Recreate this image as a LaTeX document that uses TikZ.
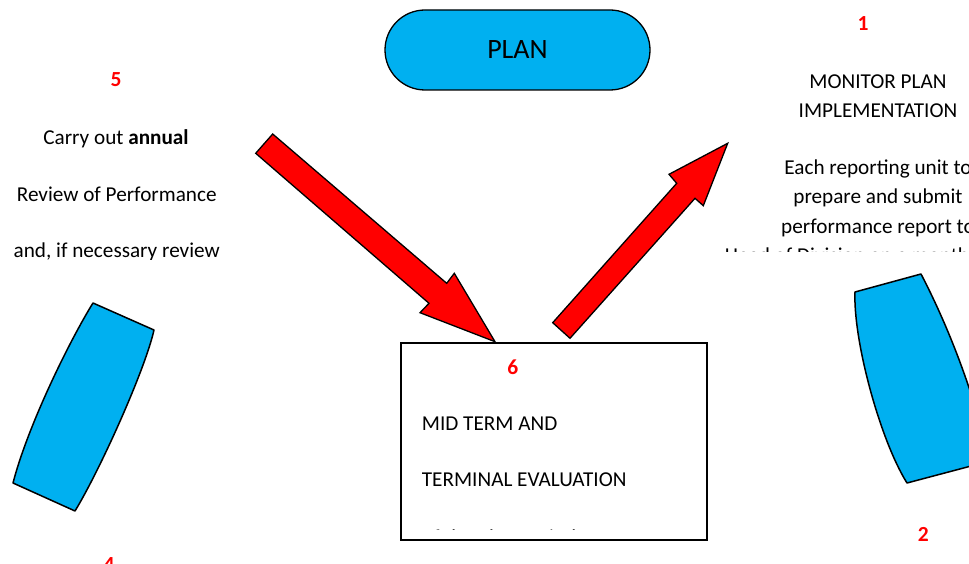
\documentclass[tikz,border=0pt]{standalone}
\usepackage{fontspec}
\setmainfont{Carlito}
\usetikzlibrary{shapes.misc}
\definecolor{skyblue}{HTML}{00B0F0}
\definecolor{numred}{HTML}{FF0000}
\tikzset{
  txt/.style={anchor=base, inner sep=0pt, font=\fontsize{21.2}{25}\selectfont},
  txtl/.style={txt, anchor=base west},
  num/.style={anchor=base, inner sep=0pt, text=numred, font=\fontsize{21.5}{25}\selectfont\bfseries},
  blockarrow/.style={fill=red, draw=black, line width=1.3pt, line join=miter},
  blob/.style={fill=skyblue, draw=black, line width=1.5pt, line join=round},
}
\begin{document}
\begin{tikzpicture}[x=1pt,y=-1pt]
\useasboundingbox (0,0) rectangle (969,564);
\clip (0,0) rectangle (969,564);
\fill[white] (0,0) rectangle (969,564);

% PLAN
\node[rounded rectangle, draw, fill=skyblue, line width=1.3pt, minimum width=265pt,
      minimum height=80pt, inner sep=0pt, font=\fontsize{28}{30}\selectfont] (plan) at (517.5,50) {PLAN};

% step 1 text
\node[num] (n1) at (863,30.7) {1};
\node[txt] (mon1) at (878,88.5) {MONITOR PLAN};
\node[txt] (mon2) at (878,117.5) {IMPLEMENTATION};
\node[txt] (mon3) at (878,175) {Each reporting unit to};
\node[txt] (mon4) at (878,204) {prepare and submit};
\node[txt] (mon5) at (878,233.3) {performance report to};
\begin{scope}
  \clip (700,0) rectangle (969,251);
  \node[txt] (mon6) at (878,262.6) {Head of Division on a monthly basis};
\end{scope}

% step 5 text
\node[num] (n5) at (116,87) {5};
\node[txt] (rev1) at (116,145) {Carry out \textbf{annual}};
\node[txt] (rev2) at (116.7,201.7) {Review of Performance};
\begin{scope}
  \clip (0,0) rectangle (240,259.5);
  \node[txt] (rev3) at (116.7,257.3) {and, if necessary review};
\end{scope}

% blue shapes
\draw[blob] (93,303) -- (154,330) .. controls (145,370) and (100,470) .. (75,511)
  -- (13,483) .. controls (28,425) and (70,340) .. cycle;
\draw[blob] (855,292) -- (921,274) .. controls (945,320) and (972,385) .. (990,461)
  -- (907,483) .. controls (880,440) and (853,340) .. cycle;

\node[num] (n2) at (923.3,541) {2};
\node[num] (n4) at (109,571) {4};

% evaluation box
\node[draw, line width=1.6pt, minimum width=306pt, minimum height=197pt, inner sep=0pt,
      anchor=north west] (eval) at (400,342) {};
\node[num] (n6) at (512.7,374) {6};
\node[txtl] (ev1) at (421.7,430) {MID TERM AND};
\node[txtl] (ev2) at (421.7,486) {TERMINAL EVALUATION};
\begin{scope}
  \clip (402,344) rectangle (704,529);
  \node[txtl] (ev3) at (421.7,544) {of the plan period};
\end{scope}

% block arrows
\coordinate (a1tip) at (495,341.7);
\coordinate (a2tip) at (727.7,143.3);
\draw[blockarrow] (272.7,134) -- (446.7,283.3) -- (454.3,273.3) -- (a1tip)
  -- (420,312.7) -- (429,303.3) -- (255.7,153.3) -- cycle;
\draw[blockarrow] (552.7,322.7) -- (676.7,183.3) -- (669,174.3) -- (a2tip)
  -- (703.3,205.7) -- (695,198.3) -- (570,338.3) -- cycle;
\end{tikzpicture}
\end{document}
